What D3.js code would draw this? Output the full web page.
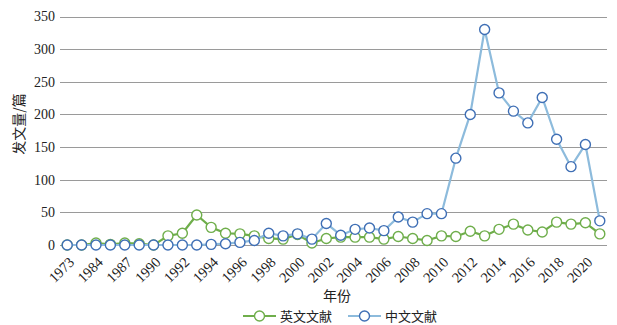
<!DOCTYPE html>
<html><head><meta charset="utf-8">
<script src="https://cdn.jsdelivr.net/npm/d3@7/dist/d3.min.js"></script>
<style>body{margin:0;background:#fff}svg{display:block}</style>
</head><body><svg id="c" width="617" height="325"></svg>
<script>
const years = ["1973","1982","1984","1985","1987","1989","1990","1991","1992","1993","1994","1995","1996","1997","1998","1999","2000","2001","2002","2003","2004","2005","2006","2007","2008","2009","2010","2011","2012","2013","2014","2015","2016","2017","2018","2019","2020","2021"];
const english = [0,0,3,1,3,2,0,14,18,46,27,18,17,14,10,9,16,3,10,12,12,12,9,13,10,7,14,13,21,14,24,32,23,20,35,32,34,17];
const chinese = [0,0,0,0,0,0,0,0,0,0,1,2,4,7,18,14,17,9,33,15,24,26,22,43,35,48,48,133,200,330,233,205,187,226,162,120,154,37];
const yTicks = [0,50,100,150,200,250,300,350];
const seriesNames = ["英文文献","中文文献"];

const svg = d3.select("#c");
const L = 60, R = 607, T = 16.5, B = 245;
const x = d3.scaleBand().domain(years).range([L, R]);
const y = d3.scaleLinear().domain([0, 350]).range([B, T]);
const serif = "'Liberation Serif','Times New Roman',serif";
const cjk = "'Noto Sans CJK SC',sans-serif";

svg.append("g").selectAll("line").data(yTicks).join("line")
  .attr("x1", L).attr("x2", R)
  .attr("y1", d => Math.round(y(d)) + 0.5).attr("y2", d => Math.round(y(d)) + 0.5)
  .attr("stroke", "#9a9a9a").attr("stroke-width", 1);

const ya = svg.append("g").attr("transform", `translate(${L},0)`)
  .call(d3.axisLeft(y).tickValues(yTicks).tickSize(0).tickPadding(5));
ya.select(".domain").remove();
ya.selectAll("text").attr("font-family", serif).attr("font-size", 14).attr("fill", "#222");

const xa = svg.append("g").attr("transform", `translate(0,${B})`)
  .call(d3.axisBottom(x).tickValues(years.filter((d, i) => i % 2 === 0)).tickSize(0).tickPadding(0));
xa.select(".domain").remove();
xa.selectAll("text").attr("font-family", serif).attr("font-size", 14.5).attr("fill", "#222")
  .attr("text-anchor", "end").attr("dy", 0)
  .attr("transform", "translate(8,18) rotate(-45)");

svg.append("text").attr("transform", "translate(24,124) rotate(-90)")
  .attr("text-anchor", "middle").attr("font-family", cjk).attr("font-size", 14).attr("fill", "#222")
  .text("发文量/篇");
svg.append("text").attr("x", 337).attr("y", 301).attr("text-anchor", "middle")
  .attr("font-family", cjk).attr("font-size", 14).attr("fill", "#222").text("年份");

const cx = (d, i) => x(years[i]) + x.bandwidth() / 2;
const line = d3.line().x((d, i) => cx(d, i)).y(d => y(d));

const series = [
  {name: seriesNames[0], data: english, line: "#6fae4b", mark: "#6fae4b"},
  {name: seriesNames[1], data: chinese, line: "#8dbbdc", mark: "#3f6fb5"}
];
series.forEach(s => {
  const g = svg.append("g");
  g.append("path").datum(s.data).attr("d", line).attr("fill", "none")
    .attr("stroke", s.line).attr("stroke-width", 2.2).attr("stroke-linejoin", "round");
  g.selectAll("circle").data(s.data).join("circle")
    .attr("cx", cx).attr("cy", d => y(d)).attr("r", 5)
    .attr("fill", "#fff").attr("stroke", s.mark).attr("stroke-width", 1.4);
});

const leg = [{x: 243, s: series[0]}, {x: 348, s: series[1]}];
leg.forEach(l => {
  const g = svg.append("g").attr("transform", `translate(${l.x},316)`);
  g.append("line").attr("x1", 0).attr("x2", 33).attr("stroke", l.s.line).attr("stroke-width", 2.2);
  g.append("circle").attr("cx", 16.5).attr("r", 5).attr("fill", "#fff").attr("stroke", l.s.mark).attr("stroke-width", 1.4);
  g.append("text").attr("x", 37).attr("y", 5).attr("font-family", cjk).attr("font-size", 13).attr("fill", "#222").text(l.s.name);
});
</script></body></html>
